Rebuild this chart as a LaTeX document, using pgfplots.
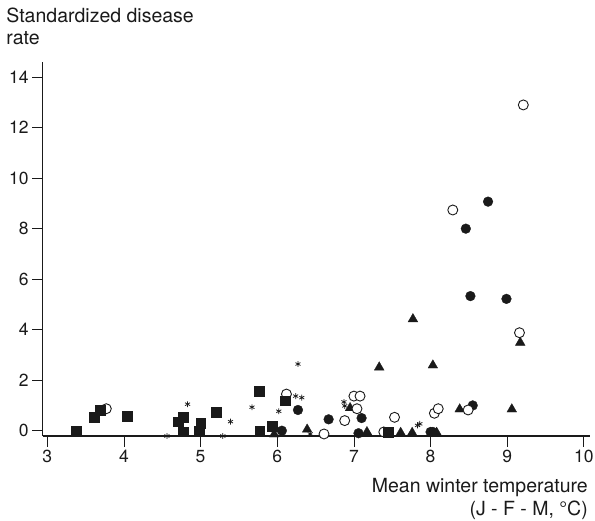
\documentclass[border=0pt]{standalone}
\usepackage{pgfplots}
\pgfplotsset{compat=1.18}
\usepackage{fontspec}
\setmainfont{TeX Gyre Heros}
\definecolor{ink}{HTML}{1A1A1A}

\begin{document}
\begin{tikzpicture}[x=1pt,y=1pt]
\useasboundingbox (0,0) rectangle (595,520);
\begin{axis}[
    at={(42.7pt,84pt)}, anchor=south west,
    scale only axis, width=547.3pt, height=374pt,
    xmin=2.94, xmax=10.08, ymin=-0.21, ymax=14.6,
    axis lines=left,
    axis line style={-, line width=1.5pt, ink},
    xtick={3,...,10}, ytick={0,2,...,14},
    tick align=outside, major tick length=10.5pt,
    tick style={line width=0.8pt, ink},
    tick label style={font=\fontsize{17.5}{20}\selectfont, text=ink},
    /pgf/number format/assume math mode=true,
    clip=false,
    xlabel={Mean winter temperature\\(J - F - M, °C)},
    every axis x label/.style={at={(rel axis cs:1,0)}, anchor=north east,
        align=right, inner sep=0pt, yshift=-42.5pt, xshift=-2pt,
        font=\fontsize{19.5}{23}\selectfont, text=ink},
    ylabel={Standardized disease\\rate},
    every axis y label/.style={at={(rel axis cs:0,1)}, anchor=north west,
        align=left, inner sep=0pt, xshift=-36.5pt, yshift=54.5pt,
        font=\fontsize{19.5}{22.5}\selectfont, text=ink},
]
% filled circles
\addplot[only marks, mark=*, mark size=4.9pt, ink, mark options={fill=ink, line width=0.3pt}]
coordinates {
(6.06,0.0)(6.27,0.82)(6.67,0.45)(7.10,0.50)(7.06,-0.1)(8.00,-0.05)(8.03,-0.05)
(8.55,1.0)(8.46,8.0)(8.75,9.07)(8.52,5.33)(8.99,5.22)
};
% triangles
\addplot[only marks, mark=triangle*, mark size=5.6pt, ink, mark options={fill=ink, line width=0.3pt}]
coordinates {
(5.96,-0.14)(6.39,0.05)(6.95,0.9)(7.17,-0.05)(7.33,2.51)(7.61,-0.08)(7.76,-0.08)
(8.08,-0.08)(8.03,2.59)(8.38,0.85)(9.17,3.49)(9.06,0.85)(7.77,4.42)
};
% open circles
\addplot[only marks, mark=*, mark size=5pt, ink, mark options={fill=white, line width=0.9pt}]
coordinates {
(3.77,0.87)(6.12,1.45)(6.61,-0.13)(6.88,0.40)(7.00,1.37)(7.08,1.37)(7.04,0.87)
(7.53,0.53)(7.39,-0.05)(8.05,0.69)(8.10,0.87)(8.49,0.82)(8.29,8.74)(9.16,3.88)(9.21,12.90)
};
% squares
\addplot[only marks, mark=square*, mark size=4.9pt, ink, mark options={fill=ink, line width=0.3pt}]
coordinates {
(3.38,0.0)(3.61,0.55)(3.69,0.82)(4.04,0.58)(4.77,0.55)(4.71,0.36)(4.77,-0.04)
(5.00,0.29)(4.98,0.0)(5.20,0.73)(5.76,1.58)(5.77,0.0)(5.93,0.19)(6.10,1.19)(7.45,-0.05)
};
% asterisks
\addplot[only marks, mark=asterisk, mark size=2.9pt, ink, mark options={line width=0.75pt}]
coordinates {
(4.56,-0.21)(4.83,1.05)(5.29,-0.21)(5.39,0.36)(5.67,0.93)(6.02,0.77)(6.27,2.64)
(6.24,1.37)(6.32,1.31)(6.43,-0.13)(6.87,1.14)(6.88,0.98)(7.83,0.21)(7.86,0.27)
};
\end{axis}
\end{tikzpicture}
\end{document}
